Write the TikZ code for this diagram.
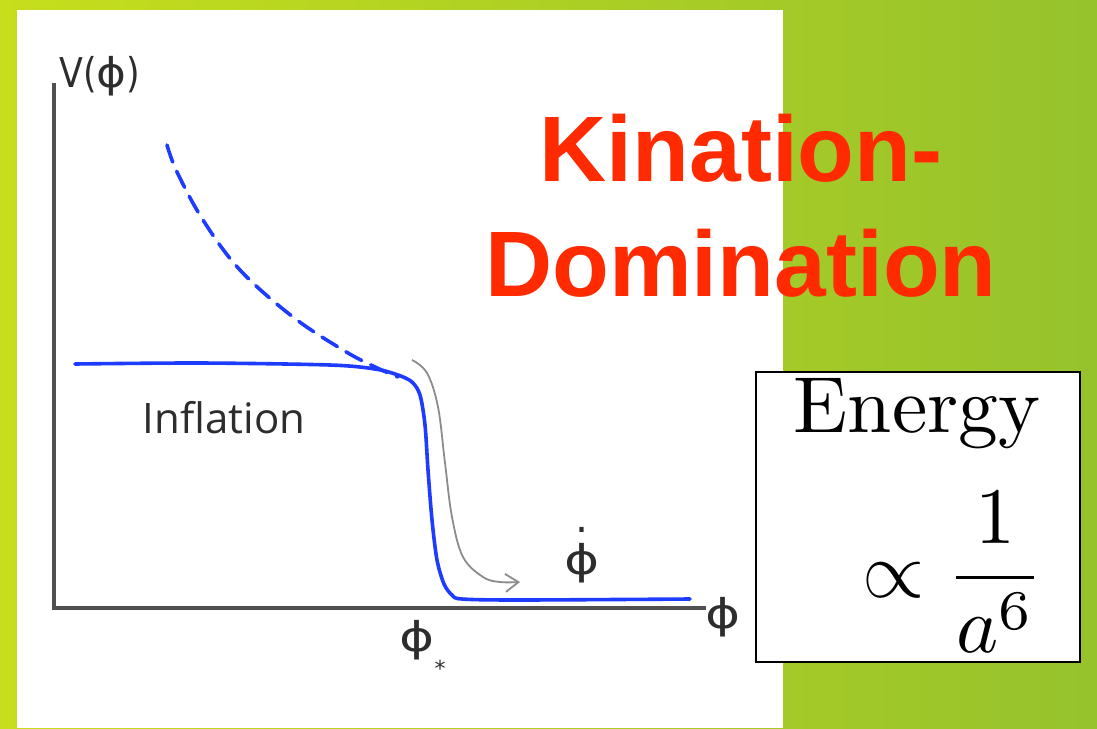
\RequirePackage{fix-cm}
\documentclass[tikz,border=0pt]{standalone}
\usepackage{amsmath}
\usepackage{fontspec}
\usetikzlibrary{arrows.meta}
\newfontfamily\dvsans{DejaVu Sans}
\newfontfamily\osans{Open Sans}
\newfontfamily\lsans{Liberation Sans}
\newcommand{\rphi}{\scalebox{1.3}[1]{ϕ}}
\definecolor{bgL}{RGB}{198,222,28}
\definecolor{bgR}{RGB}{150,194,44}
\definecolor{curveblue}{RGB}{30,60,255}
\definecolor{axisgray}{RGB}{80,80,80}
\definecolor{labelgray}{RGB}{45,45,45}
\definecolor{flowgray}{RGB}{140,140,140}
\definecolor{titlered}{RGB}{255,42,0}
\tikzset{
  axisline/.style={draw=axisgray,line width=3.5pt,line join=miter},
  curve/.style={draw=curveblue,line width=3.6pt,line cap=round,line join=round},
  flow/.style={draw=flowgray,line width=1.8pt,-{Straight Barb[length=13pt,width=18pt,line width=1.8pt]}},
  lab/.style={inner sep=0pt,text=labelgray,font=\dvsans\fontsize{41}{44}\selectfont},
  title/.style={inner sep=0pt,text=titlered,font=\lsans\bfseries\fontsize{93}{100}\selectfont},
  infl/.style={inner sep=0pt,text=labelgray,font=\osans\fontsize{42}{46}\selectfont},
  energybox/.style={draw=black,line width=2pt,fill=white}
}
\begin{document}
\begin{tikzpicture}[x=1pt,y=-1pt]
\useasboundingbox (0,0) rectangle (1097,728);
\shade[left color=bgL,right color=bgR] (0,0) rectangle (1097,728);
\fill[white] (17,10) rectangle (783,728);
% axes
\coordinate (ytop) at (54,83);
\coordinate (origin) at (54,608);
\coordinate (xend) at (706,608);
\draw[axisline] (ytop) -- (origin) -- (xend);
% potential curves
\draw[curve,dash pattern=on 18pt off 10pt] plot[smooth,tension=0.6] coordinates {(167,145) (177,172) (203,220) (240,270) (293,317) (343,350) (373,366) (398,377)};
\draw[curve] plot[smooth,tension=0.5] coordinates {(75,364) (200,363) (330,365) (375,369) (398,375) (412,382) (420,395) (425,425) (428,470) (432,520) (437,560) (444,584) (452,595) (462,599) (520,600) (690,599)};
% flow arrow
\draw[flow] plot[smooth,tension=0.6] coordinates {(412,360) (427,373) (438,407) (445,463) (452,517) (463,557) (483,577) (500,582) (520,582)};
% labels
\node[lab] (vlab) at (100,76) {\scalebox{0.85}[1]{V(\rphi)}};
\node[lab] (xlab) at (723,617) {\rphi};
\node[lab,anchor=base] (pstar) at (417,651) {\rphi\rlap{\raisebox{-25pt}{\fontsize{22}{22}\selectfont *}}};
\node[lab,anchor=base] (phidot) at (582,574) {\ooalign{\rphi\cr\hidewidth\raisebox{42pt}{.}\hidewidth\cr}};
\node[infl,anchor=base] (inflation) at (224,433) {Inflation};
% title
\node[title,anchor=base] (kin) at (741,181) {Kination-};
\node[title,anchor=base] (dom) at (741,296) {Domination};
% energy box
\path[energybox] (756,372) rectangle (1080,662);
\node[inner sep=0pt,anchor=base] (energy) at (917,432) {\scalebox{7.95}{Energy}};
\node[inner sep=0pt] (scaling) at (953,572) {\scalebox{8}{$\displaystyle\propto\frac{1}{a^6}$}};
\end{tikzpicture}
\end{document}
